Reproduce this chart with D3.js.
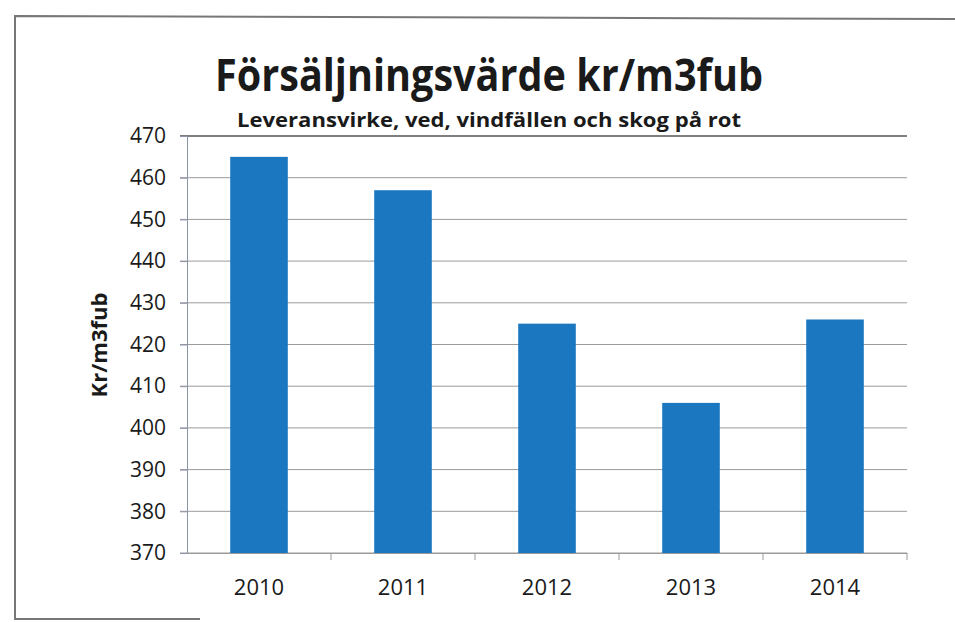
<!DOCTYPE html>
<html>
<head>
<meta charset="utf-8">
<script src="https://cdn.jsdelivr.net/npm/d3@7"></script>
<style>
    body { margin: 0; background: #fff; }
    text { font-family: "Open Sans", "Noto Sans", sans-serif; fill: #1a1a1a; }
</style>
</head>
<body>
<script>
// chart data
const years = ["2010", "2011", "2012", "2013", "2014"];
const values = [465, 457, 425, 406, 426];
const yTicks = [370, 380, 390, 400, 410, 420, 430, 440, 450, 460, 470];

const width = 955;
const height = 622;
const margin = { top: 136, right: 48, bottom: 69, left: 187 };

const svg = d3
    .select("body")
    .append("svg")
    .attr("width", width)
    .attr("height", height);

// scanned page frame
svg.append("path")
    .attr("d", "M955,19 L15,16 L15,619 L200,619")
    .attr("fill", "none")
    .attr("stroke", "#777")
    .attr("stroke-width", 2);

const x = d3
    .scaleBand()
    .domain(years)
    .range([margin.left, width - margin.right])
    .paddingInner(0.6)
    .paddingOuter(0.3);

const y = d3
    .scaleLinear()
    .domain([370, 470])
    .range([height - margin.bottom, margin.top]);

// gridlines
svg.append("g")
    .selectAll("line")
    .data(yTicks)
    .enter()
    .append("line")
    .attr("x1", margin.left - 7)
    .attr("x2", width - margin.right)
    .attr("y1", (d) => y(d))
    .attr("y2", (d) => y(d))
    .attr("stroke", (d) => (d === 470 ? "#555" : "#9a9a9a"))
    .attr("stroke-width", (d) => (d === 470 ? 1.5 : 1));

// bars
svg.append("g")
    .selectAll("rect")
    .data(values)
    .enter()
    .append("rect")
    .attr("x", (d, i) => x(years[i]))
    .attr("width", x.bandwidth())
    .attr("y", (d) => y(d))
    .attr("height", (d) => y(370) - y(d))
    .attr("fill", "#1b78c0");

// y axis
const yAxis = svg
    .append("g")
    .attr("transform", `translate(${margin.left},0)`)
    .call(d3.axisLeft(y).tickValues(yTicks).tickSize(7).tickPadding(14));
yAxis.select(".domain").attr("stroke", "#8a96a8");
yAxis.selectAll(".tick line").attr("stroke", "#8a96a8");
yAxis.selectAll("text")
    .style("font-size", "21px")
    .style("font-family", "'Open Sans', sans-serif")
    .attr("fill", "#1a1a1a");

// x axis
const xAxis = svg
    .append("g")
    .attr("transform", `translate(0,${height - margin.bottom})`)
    .call(d3.axisBottom(x).tickSize(0).tickPadding(26));
xAxis.select(".domain").attr("stroke", "#9a9a9a");
xAxis.selectAll("text")
    .style("font-size", "22px")
    .style("font-family", "'Open Sans', sans-serif")
    .attr("fill", "#1a1a1a");

// tick marks between categories
const step = x.step();
svg.append("g")
    .selectAll("line")
    .data(years.slice(1).concat(["end"]))
    .enter()
    .append("line")
    .attr("x1", (d, i) => x(years[i]) + x.bandwidth() / 2 + step / 2)
    .attr("x2", (d, i) => x(years[i]) + x.bandwidth() / 2 + step / 2)
    .attr("y1", height - margin.bottom)
    .attr("y2", height - margin.bottom + 7)
    .attr("stroke", "#9a9a9a");

// titles
svg.append("text")
    .attr("x", 489)
    .attr("y", 91)
    .attr("text-anchor", "middle")
    .attr("textLength", 548)
    .attr("lengthAdjust", "spacingAndGlyphs")
    .style("font-size", "44px")
    .style("font-weight", "bold")
    .text("Försäljningsvärde kr/m3fub");

svg.append("text")
    .attr("x", 489)
    .attr("y", 127)
    .attr("text-anchor", "middle")
    .attr("textLength", 504)
    .attr("lengthAdjust", "spacingAndGlyphs")
    .style("font-size", "20px")
    .style("font-weight", "bold")
    .text("Leveransvirke, ved, vindfällen och skog på rot");

svg.append("text")
    .attr("transform", "translate(107,345) rotate(-90)")
    .attr("text-anchor", "middle")
    .style("font-size", "22px")
    .style("font-weight", "bold")
    .text("Kr/m3fub");
</script>
</body>
</html>
